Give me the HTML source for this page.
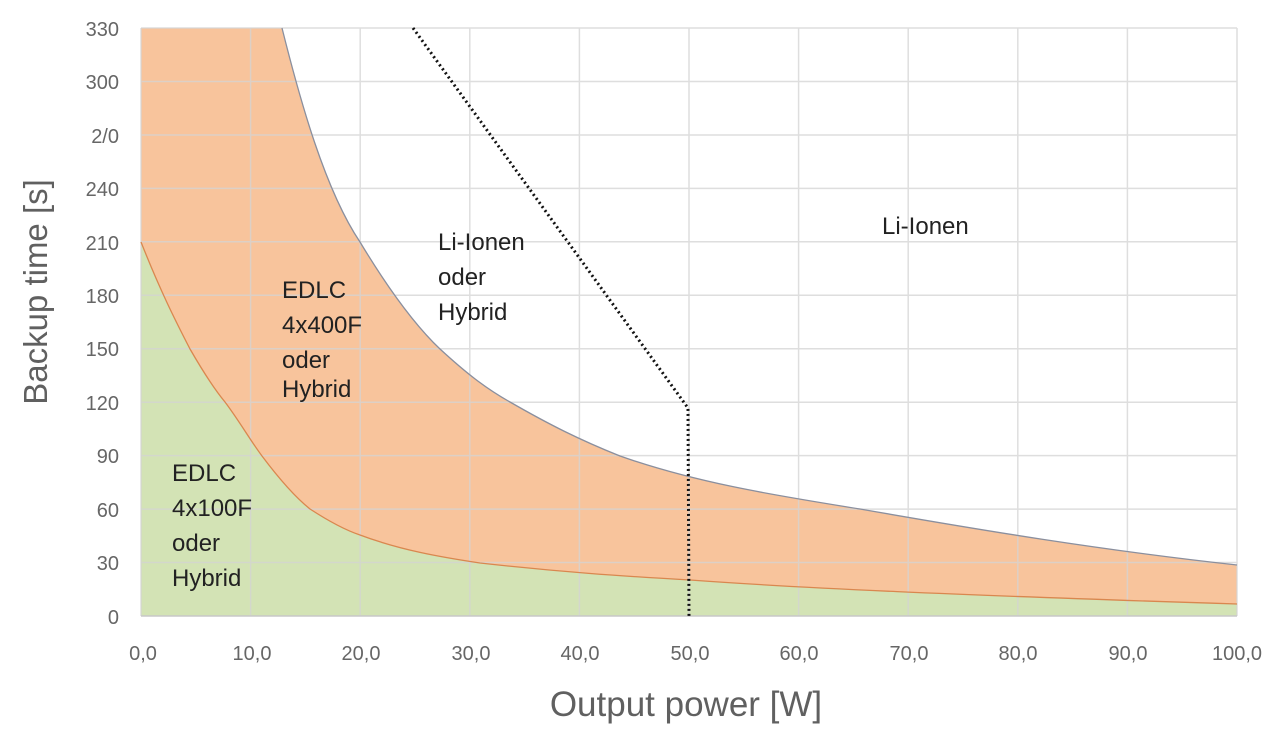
<!DOCTYPE html>
<html><head><meta charset="utf-8"><style>
html,body{margin:0;padding:0;background:#fff;}
svg text{font-family:"Liberation Sans",sans-serif;}
</style></head><body>
<svg width="1280" height="735" viewBox="0 0 1280 735" xmlns="http://www.w3.org/2000/svg">
<rect width="1280" height="735" fill="#fff"/>
<path d="M141,28 L282,28 C300,100 325,190 360,242 C395,300 420,330 440,349 C465,372 485,388 510,402 C550,425 580,440 620,456 C700,484 780,496 860,509 C980,530 1100,550 1237,565 L1237,616 L141,616 Z" fill="#f8c49c"/>
<path d="M141,242 C160,290 175,320 190,349 C205,375 215,390 225,402 C240,422 250,440 262,456 C280,480 295,497 310,509 C330,522 345,530 360,535 C400,550 440,557 480,563 C560,572 620,576 690,580 C800,588 950,595 1237,604 L1237,616 L141,616 Z" fill="#d3e3b5"/>
<g stroke="#d4d4d4" stroke-width="1.5" opacity="0.75">
<line x1="141" y1="28" x2="1237" y2="28"/><line x1="141" y1="81.5" x2="1237" y2="81.5"/><line x1="141" y1="135" x2="1237" y2="135"/><line x1="141" y1="188.4" x2="1237" y2="188.4"/><line x1="141" y1="241.8" x2="1237" y2="241.8"/><line x1="141" y1="295.3" x2="1237" y2="295.3"/><line x1="141" y1="348.7" x2="1237" y2="348.7"/><line x1="141" y1="402.2" x2="1237" y2="402.2"/><line x1="141" y1="455.6" x2="1237" y2="455.6"/><line x1="141" y1="509.1" x2="1237" y2="509.1"/><line x1="141" y1="562.5" x2="1237" y2="562.5"/>
<line x1="141" y1="28" x2="141" y2="616"/><line x1="250.6" y1="28" x2="250.6" y2="616"/><line x1="360.2" y1="28" x2="360.2" y2="616"/><line x1="469.8" y1="28" x2="469.8" y2="616"/><line x1="579.4" y1="28" x2="579.4" y2="616"/><line x1="689" y1="28" x2="689" y2="616"/><line x1="798.6" y1="28" x2="798.6" y2="616"/><line x1="908.2" y1="28" x2="908.2" y2="616"/><line x1="1017.8" y1="28" x2="1017.8" y2="616"/><line x1="1127.4" y1="28" x2="1127.4" y2="616"/><line x1="1237" y1="28" x2="1237" y2="616"/>
</g>
<line x1="141" y1="616" x2="1237" y2="616" stroke="#c8c8c8" stroke-width="1.5"/>
<path d="M282,28 C300,100 325,190 360,242 C395,300 420,330 440,349 C465,372 485,388 510,402 C550,425 580,440 620,456 C700,484 780,496 860,509 C980,530 1100,550 1237,565" fill="none" stroke="#8a8f9e" stroke-width="1.3"/>
<path d="M141,242 C160,290 175,320 190,349 C205,375 215,390 225,402 C240,422 250,440 262,456 C280,480 295,497 310,509 C330,522 345,530 360,535 C400,550 440,557 480,563 C560,572 620,576 690,580 C800,588 950,595 1237,604" fill="none" stroke="#d9874f" stroke-width="1.3"/>
<path d="M413,28 L688,408 L689,616" fill="none" stroke="#111" stroke-width="3" stroke-dasharray="2,3"/>
<g fill="#666" font-size="20" text-anchor="end">
<text x="119" y="36">330</text><text x="119" y="89">300</text><text x="119" y="143">2/0</text><text x="119" y="196">240</text><text x="119" y="250">210</text><text x="119" y="303">180</text><text x="119" y="356">150</text><text x="119" y="410">120</text><text x="119" y="463">90</text><text x="119" y="517">60</text><text x="119" y="570">30</text><text x="119" y="624">0</text>
</g>
<g fill="#666" font-size="20" text-anchor="middle">
<text x="143" y="660">0,0</text><text x="252" y="660">10,0</text><text x="361" y="660">20,0</text><text x="471" y="660">30,0</text><text x="580" y="660">40,0</text><text x="690" y="660">50,0</text><text x="799" y="660">60,0</text><text x="909" y="660">70,0</text><text x="1018" y="660">80,0</text><text x="1128" y="660">90,0</text><text x="1237" y="660">100,0</text>
</g>
<text x="686" y="716" fill="#606060" font-size="35" text-anchor="middle">Output power [W]</text>
<text transform="translate(47,292) rotate(-90)" fill="#606060" font-size="33" text-anchor="middle">Backup time [s]</text>
<g fill="#222" font-size="24">
<text x="172" y="481">EDLC</text><text x="172" y="516">4x100F</text><text x="172" y="551">oder</text><text x="172" y="586">Hybrid</text>
<text x="282" y="298">EDLC</text><text x="282" y="333">4x400F</text><text x="282" y="368">oder</text><text x="282" y="397">Hybrid</text>
<text x="438" y="250">Li-Ionen</text><text x="438" y="285">oder</text><text x="438" y="320">Hybrid</text>
<text x="882" y="234">Li-Ionen</text>
</g>
</svg>
</body></html>
